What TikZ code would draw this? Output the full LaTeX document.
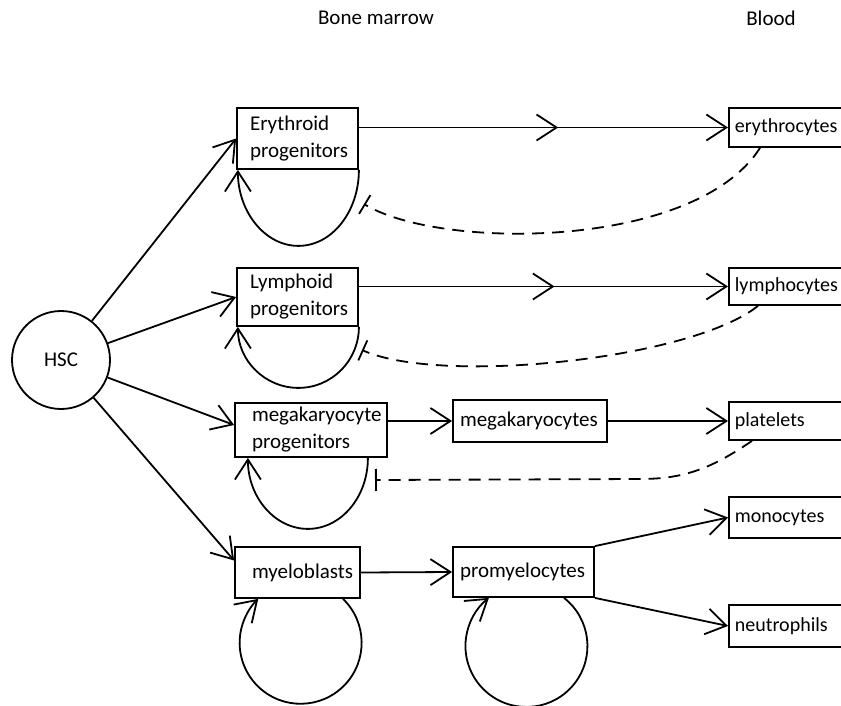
\documentclass[tikz,border=0pt]{standalone}
\usepackage{fontspec}
\setmainfont{Carlito}
\usetikzlibrary{arrows.meta,decorations.markings,calc}
\begin{document}
\begin{tikzpicture}[x=1pt,y=-1pt,
  every node/.style={font=\fontsize{21}{27}\selectfont},
  lw/.style={line width=1.8pt},
  box/.style={draw, lw, fill=white, rectangle, align=left, inner ysep=0pt},
  rbox/.style={box, anchor=west, text width=128pt, inner xsep=6pt, font=\fontsize{20}{26}\selectfont},
  arr/.style={lw, -{Straight Barb[length=20pt,width=26pt,line width=1.8pt]}},
  midarr/.style={postaction={decorate}, decoration={markings,
     mark=at position #1 with {\arrow{Straight Barb[length=20pt,width=26pt,line width=1.8pt]}}}},
  inh/.style={lw, dash pattern=on 12pt off 8pt, -{Bar[width=22pt,line width=1.8pt]}}
]
\clip (0,0) rectangle (841,706);

% titles
\node (bm) at (376,18) {Bone marrow};
\node (bl) at (771,18) {Blood};

% HSC
\node[draw, lw, circle, minimum size=98pt, inner sep=0pt] (hsc) at (61,360) {HSC};

% bone marrow boxes
\node[box, minimum height=61pt, text width=95pt, inner xsep=13pt] (ery) at (297.5,138.5) {Erythroid\\progenitors};
\node[box, minimum height=58pt, text width=95pt, inner xsep=13pt] (lym) at (297.5,297) {Lymphoid\\progenitors};
\node[box, minimum height=54pt, text width=118pt, inner xsep=17pt] (mega) at (311,430) {megakaryocyte\\progenitors};
\node[box, minimum height=42pt, text width=140pt, inner xsep=7pt] (megak) at (530,421) {megakaryocytes};
\node[box, minimum height=51pt, text width=91pt, inner xsep=17pt] (myelo) at (297.5,572.5) {myeloblasts};
\node[box, minimum height=50pt, text width=127pt, inner xsep=7pt] (promy) at (523.5,572) {promyelocytes};

% blood boxes
\node[rbox, minimum height=39pt] (erc) at (728,127.5) {erythrocytes};
\node[rbox, minimum height=37pt] (lyc) at (728,286.5) {lymphocytes};
\node[rbox, minimum height=38pt] (plt) at (728,421) {platelets};
\node[rbox, minimum height=41pt] (mono) at (728,517.5) {monocytes};
\node[rbox, minimum height=42pt] (neu) at (728,626) {neutrophils};

% HSC differentiation
\draw[arr] (hsc) -- (ery.west);
\draw[arr] (hsc) -- (lym.west);
\draw[arr] (hsc) -- ([yshift=5pt]mega.west);
\draw[arr] (hsc) -- ([yshift=12pt]myelo.west);

% maturation
\draw[arr, midarr=0.54] (ery.east |- erc.west) -- (erc.west);
\draw[arr, midarr=0.53] (lym.east |- lyc.west) -- (lyc.west);
\draw[arr] (mega.east |- megak.west) -- (megak.west);
\draw[arr] (megak.east) -- (plt.west);
\draw[arr] (myelo.east) -- (promy.west);
\draw[arr] (promy.north east) -- (mono.west);
\draw[arr] (promy.south east) -- (neu.west);

% self-renewal loops
\draw[arr] (ery.south east) arc[start angle=0, end angle=180, x radius=60.5, y radius=76];
\draw[arr] (lym.south east) arc[start angle=0, end angle=180, x radius=60.5, y radius=61];
\draw[arr] ([xshift=-20pt]mega.south east) arc[start angle=0, end angle=180, x radius=60, y radius=71];
\draw[arr] ([xshift=45.5pt]myelo.south) arc[start angle=-46, end angle=226, radius=61];
\draw[arr] ([xshift=40.5pt]promy.south) arc[start angle=-52, end angle=232, radius=61];

% feedback inhibition
\coordinate (eryinh) at (364,204);
\coordinate (lyminh) at (362,350);
\coordinate (megainh) at (375,480);
\draw[inh] ([xshift=32pt]erc.south west) .. controls (695,250) and (440,250) .. (eryinh);
\draw[inh] ([xshift=30pt]lyc.south west) .. controls (690,360) and (440,385) .. (lyminh);
\draw[inh] ([xshift=24pt]plt.south west) .. controls (712,468) and (685,479) .. (640,479) -- (megainh);
\end{tikzpicture}
\end{document}
